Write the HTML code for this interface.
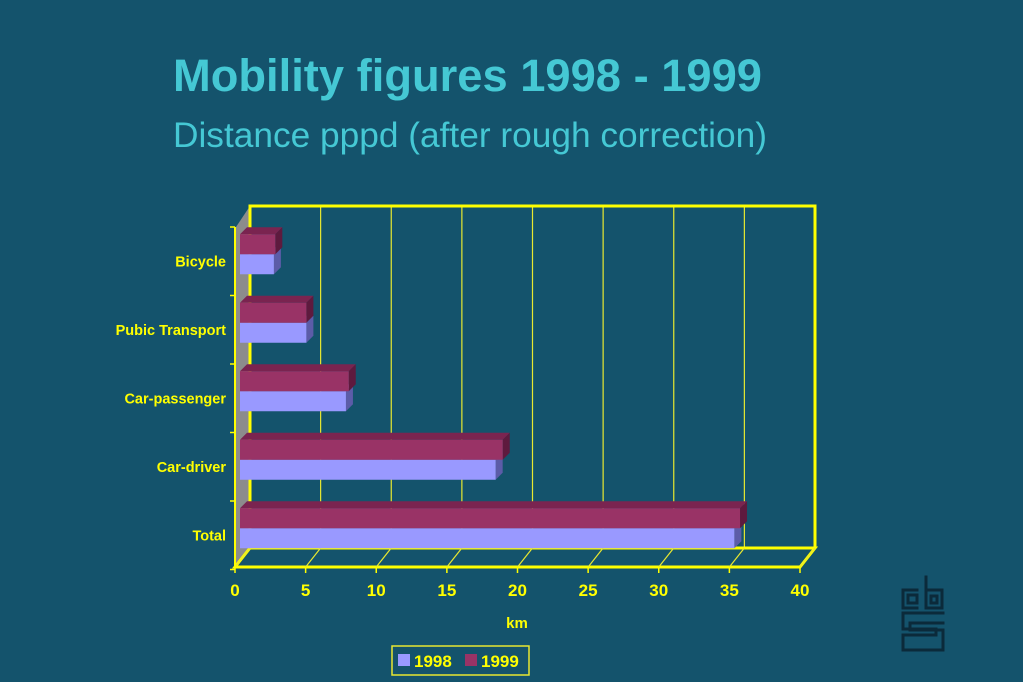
<!DOCTYPE html>
<html><head><meta charset="utf-8"><style>
html,body{margin:0;padding:0;background:#14536c;}
svg{display:block;font-family:"Liberation Sans",Arial,sans-serif;}
</style></head><body>
<svg id="chart" width="1023" height="682" viewBox="0 0 1023 682" xmlns="http://www.w3.org/2000/svg">
<rect width="1023" height="682" fill="#14536c"/>
<text x="173" y="91" font-size="45" font-weight="bold" fill="#45c8d4" textLength="589" lengthAdjust="spacingAndGlyphs">Mobility figures 1998 - 1999</text>
<text x="173" y="147" font-size="35" fill="#45c8d4" textLength="594" lengthAdjust="spacingAndGlyphs">Distance pppd (after rough correction)</text>
<g id="plot"></g>
<g fill="none" stroke="#0b2a3a" stroke-width="3" stroke-linecap="square">
<path d="M917 590 h-14 v18 h14 M908 595 h9 v8 h-9z"/>
<path d="M926 577 v31 h16 v-18 h-16 M931 596 h6 v7 h-6z"/>
<path d="M943 613 h-40 v16 h33 v6 h-33 v15 h40 v-20 h-33 v-7 h33"/>
</g>
</svg>
<script>
const categories = ["Bicycle","Pubic Transport","Car-passenger","Car-driver","Total"];
const values1998 = [2.4, 4.7, 7.5, 18.1, 35.0];
const values1999 = [2.5, 4.7, 7.7, 18.6, 35.4];
const xTicks = [0,5,10,15,20,25,30,35,40];
const seriesNames = ["1998","1999"];

const NS = "http://www.w3.org/2000/svg";
const plot = document.getElementById('plot');
function mk(tag, attrs, parent){const e=document.createElementNS(NS,tag);for(const k in attrs)e.setAttribute(k,attrs[k]);(parent||plot).appendChild(e);return e;}
const x0=235, x1=800, yFront=567, dx=15, dy=-19, yTop=206;
const xMax=40;
function xs(v){return x0+(v/xMax)*(x1-x0);}
const bandTop=227, band=68.5;
function yc(i){return bandTop+band*(i+0.5);}

let w=mk('polygon',{points:`${x0+1},${bandTop} ${x0+dx},${yTop} ${x0+dx},${yFront+dy} ${x0+1},${yFront}`,fill:'#8c8c8c'});


xTicks.forEach((t,i)=>{
  if(i>0 && i<xTicks.length-1){
    const g=mk('line',{x1:xs(t)+dx,y1:yTop,x2:xs(t)+dx,y2:yFront+dy,stroke:'#e8e830','stroke-width':1.2});
    
    
  }
});
let bf=mk('polyline',{points:`${x0+dx},${yFront+dy} ${x0+dx},${yTop} ${x1+dx},${yTop} ${x1+dx},${yFront+dy}`,fill:'none',stroke:'#ffff00','stroke-width':3});


let fl=mk('polygon',{points:`${x0},${yFront} ${x1},${yFront} ${x1+dx},${yFront+dy} ${x0+dx},${yFront+dy}`,fill:'none',stroke:'#ffff00','stroke-width':3});


xTicks.forEach(t=>{
  const l=mk('line',{x1:xs(t),y1:yFront,x2:xs(t)+dx,y2:yFront+dy,stroke:'#e8e830','stroke-width':1.2});
  
  
  const tk=mk('line',{x1:xs(t),y1:yFront,x2:xs(t),y2:yFront+6,stroke:'#ffff00','stroke-width':1.5});
  
  
  const tx=mk('text',{x:xs(t),y:596,'text-anchor':'middle','font-size':17,'font-weight':'bold',fill:'#ffff00'});
  tx.textContent=t;
  
  
});
let la=mk('line',{x1:x0,y1:bandTop,x2:x0,y2:yFront,stroke:'#ffff00','stroke-width':2});


for(let i=0;i<=5;i++){
  const y=bandTop+band*i;
  const t=mk('line',{x1:x0-5,y1:y,x2:x0,y2:y,stroke:'#ffff00','stroke-width':1.5});
  
  
}
const bx=240, sx=(x1-x0)/xMax, bh=20, d=7;
function bar(v,yTopBar,front,top,side,name){
  const g=mk('g',{});
  
  
  const xe=bx+v*sx;
  mk('polygon',{points:`${bx},${yTopBar} ${bx+d},${yTopBar-d} ${xe+d},${yTopBar-d} ${xe},${yTopBar}`,fill:top},g);
  mk('polygon',{points:`${xe},${yTopBar} ${xe+d},${yTopBar-d} ${xe+d},${yTopBar+bh-d} ${xe},${yTopBar+bh}`,fill:side},g);
  mk('rect',{x:bx,y:yTopBar,width:xe-bx,height:bh,fill:front},g);
}
categories.forEach((c,i)=>{
  const cy=yc(i);
  bar(values1998[i],cy-7,'#9999ff','#7777cc','#5c5ca8','bar-1998-'+c.toLowerCase().replace(/\s+/g,'-'));
  bar(values1999[i],cy-27,'#993366','#7a2450','#5e1a3e','bar-1999-'+c.toLowerCase().replace(/\s+/g,'-'));
  const t=mk('text',{x:226,y:cy+5,'text-anchor':'end','font-size':14.5,'font-weight':'bold',fill:'#ffff00'});
  t.textContent=c;
  
  
});
let km=mk('text',{x:517,y:628,'text-anchor':'middle','font-size':15,'font-weight':'bold',fill:'#ffff00'});
km.textContent='km';


const lg=mk('g',{});


mk('rect',{x:392,y:646,width:137,height:29,fill:'none',stroke:'#e8e830','stroke-width':1.5},lg);
const lcol=['#9999ff','#993366'];
seriesNames.forEach((s,i)=>{
  const e=mk('g',{},lg);
  
  
  const ox=398+i*67;
  mk('rect',{x:ox,y:654,width:12,height:12,fill:lcol[i]},e);
  const t=mk('text',{x:ox+16,y:667,'font-size':17,'font-weight':'bold',fill:'#ffff00'},e);
  t.textContent=s;
});
</script>
</body></html>
